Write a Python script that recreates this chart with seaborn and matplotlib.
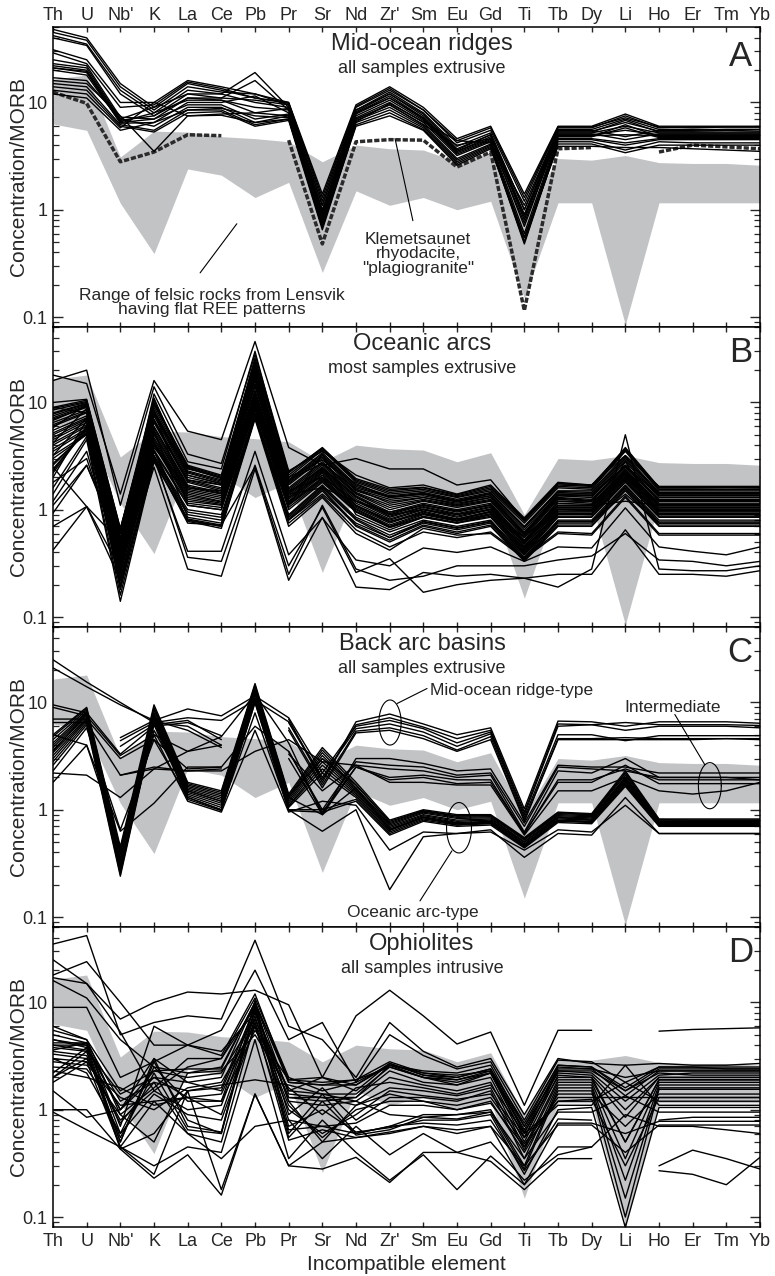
import numpy as np
import pandas as pd
import matplotlib
matplotlib.use("Agg")
import matplotlib.pyplot as plt
from matplotlib.ticker import LogLocator, FuncFormatter, NullFormatter
import seaborn as sns

sns.set_style("ticks")
plt.rcParams["font.family"] = ["Liberation Sans", "DejaVu Sans"]

nan = np.nan

ELEMENTS = ["Th", "U", "Nb'", "K", "La", "Ce", "Pb", "Pr", "Sr", "Nd", "Zr'",
            "Sm", "Eu", "Gd", "Ti", "Tb", "Dy", "Li", "Ho", "Er", "Tm", "Yb"]

# Lensvik felsic rocks with flat REE patterns (range envelope)
felsic_low = [6.3, 5.5, 1.15, 0.39, 2.4, 2.1, 1.3, 1.8, 0.26, 1.5, 1.1,
              1.3, 1.0, 1.2, 0.15, 1.16, 1.16, 0.085, 1.16, 1.16, 1.16, 1.16]
felsic_high = [16.5, 18.0, 3.1, 5.4, 5.3, 4.8, 4.6, 4.3, 2.8, 4.0, 3.7,
               3.6, 2.8, 3.4, 0.9, 3.0, 2.9, 3.2, 2.75, 2.7, 2.7, 2.6]

# Klemetsaunet rhyodacite ("plagiogranite")
klemetsaunet = [12.5, 9.8, 2.8, 3.45, 5.0, 4.9, nan, 4.45, 0.48, 4.3, 4.5,
                4.45, 2.5, 3.45, 0.115, 3.7, 3.8, nan, 3.45, 4.0, 3.85, 3.7]

# A: mid-ocean ridges
ridge_samples = [
    [48, 40, 15, 9, 15, 13, 11, 10, 1.2, 9, 13, 8.5, 4.2, 5.5, 1.2, 5.8, 5.8, 7.5, 5.8, 5.9, 5.9, 5.9],
    [45, 38, 14, 8.5, 14, 12.5, 12, 9.5, 1.1, 8.5, 12.5, 8, 3.9, 5.2, 1.0, 5.6, 5.6, 7.0, 5.6, 5.6, 5.6, 5.6],
    [42, 35, 13, 8, 13, 12, 19, 9, 1.0, 8.2, 12, 7.5, 3.6, 5.0, 0.9, 5.4, 5.4, 6.5, 5.4, 5.4, 5.5, 5.4],
    [40, 34, 12, 7.5, 12, 11, 16, 8.5, 0.95, 8, 11.5, 7.2, 3.5, 4.8, 0.8, 5.2, 5.2, 6.0, 5.2, 5.2, 5.2, 5.2],
    [31, 25, 10, 10, 16, 14, 12, 10, 1.4, 9.5, 14, 9, 4.6, 6, 1.4, 6.0, 6.0, 7.8, 6.0, 6.0, 6.0, 6.0],
    [29, 23, 9, 9.5, 15.5, 13.5, 11, 9.8, 1.3, 9.2, 13.5, 8.5, 4.4, 5.8, 1.3, 5.9, 5.9, 7.2, 5.9, 5.8, 5.9, 5.9],
    [25, 22, 7.3, 7, 11, 11, 10.5, 9.5, 0.9, 8, 11, 7, 3.4, 4.5, 0.7, 5.0, 5.0, 5.5, 5.0, 5.0, 5.0, 5.0],
    [23, 21, 7, 9, 12, 12, 10, 9, 1.1, 8.5, 12, 7.8, 3.7, 5.0, 1.0, 5.3, 5.3, 6.8, 5.3, 5.3, 5.3, 5.3],
    [22, 20, 6.8, 7.5, 11, 10.5, 9, 8.5, 0.85, 7.5, 10.5, 6.8, 3.3, 4.4, 0.75, 4.9, 4.9, 5.0, 4.9, 4.9, 4.9, 4.9],
    [21, 19.5, 6.6, 8, 10.5, 10.5, 8, 8.8, 0.95, 7.8, 11, 7.2, 3.5, 4.6, 0.85, 5.1, 5.1, 4.5, 5.1, 5.1, 5.1, 5.1],
    [21, 19, 6.4, 6.5, 10, 10, 11.5, 8, 0.8, 7.2, 10, 6.5, 3.2, 4.3, 0.6, 4.8, 4.8, 6.2, 4.8, 4.8, 4.8, 4.8],
    [20, 18, 6.5, 7, 9.5, 9.5, 7, 7.8, 0.75, 7, 9.5, 6.2, 3.0, 4.1, 0.55, 4.6, 4.6, 4.2, 4.6, 4.6, 4.6, 4.6],
    [17, 16, 7, 6, 9, 9, 6.5, 7.5, 0.7, 6.8, 9, 6, 2.9, 4.0, 0.5, 4.5, 4.5, 4.0, 4.5, 4.5, 4.5, 4.5],
    [15, 14, 6.2, 5.5, 8.5, 8.5, 6.2, 7, 0.68, 6.5, 8.5, 5.8, 2.8, 3.9, 0.48, 4.3, 4.3, 3.6, 4.3, 4.2, 4.2, 4.2],
    [14, 13, 6, 5.3, 8, 8.2, 6, 6.8, 0.65, 6.2, 8, 5.6, 2.7, 3.8, 0.5, 4.1, 4.1, 3.4, 4.0, 4.0, 4.0, 4.0],
    [13, 12, 5.8, 10, 7.5, 7.6, 6.5, 7, 0.7, 6, 7.5, 5.5, 2.6, 3.7, 0.55, 3.9, 3.9, 3.8, 3.8, 3.7, 3.6, 3.5],
    [16, 15, 7.5, 3.5, 7.5, 7.8, 8, 7.5, 0.9, 7, 9.5, 6.2, 4.0, 4.6, 0.9, 4.8, 4.8, 5.8, 4.7, 4.7, 4.7, 4.7],
    [12, 11, 5.5, 6.5, 8.5, 8.8, 7.5, 7.2, 0.8, 6.6, 9.8, 6.6, 4.4, 4.2, 1.1, 5.5, 5.5, 4.8, 5.5, 5.5, 5.6, 5.6],
]

# B: oceanic arcs
arc_samples = [
    [18, 15, 1.4, 16, 5.4, 4.5, 37, 3.8, 2.6, 3.0, 2.4, 2.4, 1.7, 1.9, 0.8, 1.75, 1.7, 3.2, 1.65, 1.65, 1.65, 1.65],
    [16, 20, 1.1, 14, 3.3, 2.7, 28, 2.3, 3.5, 2.1, 1.6, 1.7, 1.4, 1.7, 0.84, 1.8, 1.7, 3.6, 1.6, 1.6, 1.6, 1.6],
    [9, 10.5, 0.67, 9.7, 2.6, 2.1, 25, 2.2, 3.8, 1.9, 1.5, 1.6, 1.35, 1.6, 0.8, 1.7, 1.65, 3.8, 1.6, 1.6, 1.62, 1.6],
    [8.5, 10, 0.6, 9, 2.4, 2.0, 22, 2.0, 3.6, 1.8, 1.4, 1.5, 1.3, 1.5, 0.75, 1.6, 1.55, 3.5, 1.5, 1.5, 1.5, 1.5],
    [8, 9.8, 0.55, 8.5, 2.3, 1.9, 20, 1.9, 3.4, 1.7, 1.35, 1.45, 1.25, 1.45, 0.7, 1.5, 1.5, 3.2, 1.45, 1.45, 1.45, 1.45],
    [7.5, 9.5, 0.5, 8, 2.2, 1.8, 18, 1.8, 3.2, 1.6, 1.3, 1.4, 1.2, 1.4, 0.68, 1.45, 1.4, 3.0, 1.4, 1.4, 1.4, 1.4],
    [7, 9, 0.45, 7.5, 2.0, 1.7, 16, 1.7, 3.0, 1.5, 1.2, 1.3, 1.15, 1.3, 0.62, 1.35, 1.3, 2.8, 1.3, 1.3, 1.3, 1.3],
    [6.5, 8.5, 0.42, 7, 1.9, 1.6, 15, 1.6, 2.8, 1.45, 1.1, 1.25, 1.1, 1.25, 0.6, 1.3, 1.25, 2.6, 1.25, 1.25, 1.25, 1.25],
    [6, 8, 0.4, 6.5, 1.8, 1.5, 14, 1.5, 2.6, 1.4, 1.0, 1.2, 1.05, 1.2, 0.55, 1.25, 1.2, 2.5, 1.2, 1.2, 1.2, 1.2],
    [5.5, 7.5, 0.38, 6, 1.7, 1.45, 13, 1.45, 2.5, 1.35, 0.95, 1.15, 1.0, 1.15, 0.52, 1.2, 1.15, 2.4, 1.15, 1.15, 1.15, 1.15],
    [5, 7, 0.35, 5.5, 1.6, 1.4, 12, 1.4, 2.4, 1.3, 0.9, 1.1, 0.95, 1.1, 0.5, 1.1, 1.1, 2.3, 1.1, 1.1, 1.1, 1.1],
    [4.5, 6.5, 0.33, 5, 1.5, 1.3, 11, 1.3, 2.3, 1.2, 0.85, 1.05, 0.9, 1.05, 0.48, 1.05, 1.05, 2.2, 1.05, 1.05, 1.05, 1.05],
    [4, 6, 0.3, 4.5, 1.4, 1.2, 10, 1.2, 2.2, 1.1, 0.8, 1.0, 0.85, 1.0, 0.45, 1.0, 1.0, 2.1, 1.0, 1.0, 1.0, 1.0],
    [3.5, 5.5, 0.28, 4.2, 1.3, 1.15, 9.5, 1.15, 2.0, 1.05, 0.75, 0.95, 0.8, 0.95, 0.42, 0.95, 0.95, 2.0, 0.95, 0.95, 0.95, 0.95],
    [3, 5, 0.25, 4, 1.2, 1.1, 9, 1.1, 1.9, 1.0, 0.7, 0.9, 0.78, 0.9, 0.4, 0.9, 0.9, 1.9, 0.9, 0.9, 0.9, 0.9],
    [2.7, 5.2, 0.22, 3.5, 1.1, 1.0, 8.5, 1.0, 1.8, 0.95, 0.68, 0.85, 0.75, 0.85, 0.38, 0.85, 0.85, 1.8, 0.85, 0.85, 0.85, 0.85],
    [2.4, 5.5, 0.2, 3.2, 1.0, 0.9, 8, 0.9, 1.7, 0.85, 0.62, 0.8, 0.7, 0.8, 0.36, 0.8, 0.8, 1.7, 0.8, 0.8, 0.8, 0.8],
    [2.3, 6, 0.18, 3, 0.9, 0.8, 7.5, 0.85, 1.6, 0.8, 0.55, 0.75, 0.65, 0.75, 0.34, 0.75, 0.75, 1.6, 0.75, 0.75, 0.75, 0.75],
    [1.4, 4.5, 0.14, 2.8, 0.8, 0.7, 7.2, 0.8, 1.5, 0.7, 0.5, 0.7, 0.6, 0.7, 0.33, 0.7, 0.7, 1.5, 0.7, 0.7, 0.7, 0.7],
    [1.2, 3.5, 0.3, 3.5, 0.78, 0.67, 7.0, 0.7, 1.3, 0.6, 0.42, 0.67, 0.58, 0.6, 0.35, 0.6, 0.58, 1.3, 0.58, 0.58, 0.58, 0.58],
    [0.93, 2.6, 0.5, 3.8, 1.6, 1.5, 12, 1.5, 2.0, 1.2, 0.9, 1.0, 0.9, 1.0, 0.55, 1.1, 1.1, 1.2, 1.1, 1.1, 1.1, 1.1],
    [0.7, 1.07, 0.28, 3.0, 0.41, 0.41, 3.5, 0.38, 0.84, 0.34, 0.3, 0.44, 0.4, 0.45, 0.33, 0.45, 0.44, 1.04, 0.45, 0.41, 0.38, 0.45],
    [0.42, 1.07, 0.22, 2.5, 0.28, 0.24, 2.4, 0.22, 0.85, 0.19, 0.18, 0.26, 0.24, 0.25, 0.23, 0.25, 0.25, 0.65, 0.25, 0.25, 0.24, 0.27],
    [1.1, 2.6, 0.45, 3.2, 0.36, 0.33, 2.6, 0.3, 1.05, 0.26, 0.35, 0.17, 0.2, 0.22, 0.23, 0.19, 0.28, 5.0, 0.28, 0.27, 0.27, 0.3],
    [9, 8, 0.5, 12, 2.8, 2.4, 30, 2.0, 2.9, 1.75, 1.3, 1.4, 1.2, 1.35, 0.6, 1.4, 1.4, 2.5, 1.4, 1.4, 1.4, 1.4],
    [6.8, 9.2, 0.6, 10, 2.5, 2.0, 24, 1.4, 1.6, 1.2, 0.95, 1.1, 0.98, 1.1, 0.48, 1.2, 1.2, 1.9, 1.2, 1.2, 1.2, 1.2],
    [4.2, 8.8, 0.32, 8.5, 1.1, 1.0, 19, 1.1, 3.3, 0.9, 0.65, 0.85, 0.75, 0.9, 0.44, 0.92, 0.9, 2.8, 0.9, 0.9, 0.9, 0.9],
    [2.0, 6.8, 0.25, 5.5, 0.85, 0.75, 11, 0.8, 1.4, 0.75, 0.55, 0.78, 0.68, 0.78, 0.38, 0.78, 0.78, 1.4, 0.75, 0.75, 0.75, 0.75],
    [3.2, 7.2, 0.45, 6.8, 1.9, 1.7, 17, 1.3, 2.1, 1.1, 0.78, 0.92, 0.82, 0.95, 0.5, 1.0, 0.98, 2.2, 0.98, 0.98, 0.98, 0.98],
    [5.8, 9.6, 0.65, 11, 2.1, 1.75, 21, 1.9, 2.7, 1.55, 1.15, 1.3, 1.12, 1.3, 0.58, 1.35, 1.35, 2.6, 1.35, 1.35, 1.35, 1.35],
    [2.5, 1.07, 0.5, 3.0, 0.75, 0.72, 2.5, 0.25, 1.1, 0.28, 0.22, 0.24, 0.3, 0.3, 0.3, 0.34, 0.37, 0.6, 0.34, 0.33, 0.3, 0.33],
    [8.8, 10.2, 0.62, 10.5, 2.45, 1.95, 26, 2.1, 3.7, 1.85, 1.45, 1.55, 1.32, 1.55, 0.78, 1.65, 1.6, 3.6, 1.55, 1.55, 1.55, 1.55],
    [7.2, 9.3, 0.48, 7.8, 2.1, 1.75, 17, 1.75, 3.1, 1.55, 1.25, 1.35, 1.18, 1.35, 0.65, 1.4, 1.35, 2.9, 1.35, 1.35, 1.35, 1.35],
    [6.2, 8.2, 0.41, 6.8, 1.85, 1.55, 14.5, 1.55, 2.7, 1.42, 1.05, 1.22, 1.08, 1.22, 0.57, 1.28, 1.22, 2.55, 1.22, 1.22, 1.22, 1.22],
    [5.2, 7.2, 0.36, 5.8, 1.65, 1.42, 12.5, 1.42, 2.45, 1.32, 0.92, 1.12, 0.97, 1.12, 0.51, 1.15, 1.12, 2.35, 1.12, 1.12, 1.12, 1.12],
    [4.7, 6.8, 0.34, 5.2, 1.55, 1.35, 11.5, 1.35, 2.35, 1.25, 0.87, 1.07, 0.92, 1.07, 0.49, 1.08, 1.08, 2.25, 1.08, 1.08, 1.08, 1.08],
    [4.2, 6.2, 0.31, 4.7, 1.45, 1.25, 10.5, 1.25, 2.25, 1.15, 0.82, 1.02, 0.87, 1.02, 0.46, 1.02, 1.02, 2.15, 1.02, 1.02, 1.02, 1.02],
    [3.7, 5.7, 0.29, 4.3, 1.35, 1.18, 9.8, 1.18, 2.1, 1.08, 0.77, 0.97, 0.82, 0.97, 0.43, 0.97, 0.97, 2.05, 0.97, 0.97, 0.97, 0.97],
    [3.2, 5.1, 0.26, 4.1, 1.25, 1.12, 9.2, 1.12, 1.95, 1.02, 0.72, 0.92, 0.79, 0.92, 0.41, 0.92, 0.92, 1.95, 0.92, 0.92, 0.92, 0.92],
    [2.6, 5.3, 0.23, 3.6, 1.15, 1.05, 8.7, 1.05, 1.85, 0.97, 0.69, 0.87, 0.76, 0.87, 0.39, 0.87, 0.87, 1.85, 0.87, 0.87, 0.87, 0.87],
    [2.2, 5.8, 0.19, 3.1, 0.95, 0.85, 7.8, 0.88, 1.65, 0.82, 0.58, 0.77, 0.67, 0.77, 0.35, 0.77, 0.77, 1.65, 0.77, 0.77, 0.77, 0.77],
    [1.6, 4.8, 0.16, 2.9, 0.82, 0.72, 7.3, 0.82, 1.55, 0.72, 0.52, 0.72, 0.62, 0.72, 0.34, 0.72, 0.72, 1.55, 0.72, 0.72, 0.72, 0.72],
    [1.8, 3.0, 0.35, 3.6, 0.8, 0.7, 7.5, 0.75, 1.35, 0.65, 0.45, 0.62, 0.55, 0.62, 0.36, 0.62, 0.6, 1.35, 0.6, 0.6, 0.6, 0.6],
    [10, 10.7, 0.66, 9.5, 2.55, 2.05, 23, 2.25, 3.75, 1.95, 1.55, 1.62, 1.38, 1.65, 0.82, 1.75, 1.68, 3.7, 1.62, 1.62, 1.62, 1.62],
    [7.8, 9.7, 0.52, 8.2, 2.25, 1.85, 19, 1.85, 3.3, 1.65, 1.32, 1.42, 1.22, 1.42, 0.69, 1.48, 1.45, 3.1, 1.42, 1.42, 1.42, 1.42],
]

# C: back arc basins
backarc_samples = [
    [25, 15.5, 10, 6.5, 6.0, 4.0, nan, 7.0, 1.8, 6.6, 7.8, 6.3, 5.0, 5.8, 1.02, 6.7, 6.6, 6.0, 6.6, 6.6, 6.6, 6.4],
    [21, 14, 9.5, 6.8, 5.5, 3.8, nan, 6.5, 1.9, 6.2, 7.2, 5.9, 4.6, 5.5, 0.95, 6.3, 6.2, 6.5, 6.2, 6.2, 6.2, 6.1],
    [nan, nan, 4.7, 6.8, 8.7, 7.5, 11.5, 7.2, 2.2, 6.0, 6.8, 5.7, 4.2, 5.3, 0.9, 6.0, 6.2, 5.5, 6.0, 6.0, 6.0, 5.8],
    [nan, nan, 4.4, 6.5, 7.2, 6.8, 10.5, 6.6, 2.0, 5.7, 6.3, 5.3, 3.9, 5.1, 0.85, 5.0, 5.0, 4.4, 4.9, 4.9, 4.9, 4.9],
    [nan, nan, 3.9, 6.2, 6.8, 4.5, nan, 5.8, 1.7, 5.4, 5.8, 4.9, 3.6, 4.8, 0.8, 4.6, 4.6, 4.7, 4.6, 4.6, 4.6, 4.6],
    [9.5, 8, 3.3, 6.0, 6.5, 4.9, nan, 5.5, 1.6, 5.2, 5.5, 4.6, 3.5, 4.5, 0.78, 4.5, 4.5, 4.5, 4.5, 4.5, 4.6, 4.5],
    [9, 7.5, 3.2, 5.0, 3.5, 4.8, 12, 4.2, 0.9, 3.0, 3.0, 2.7, 2.3, 2.4, 0.75, 2.6, 2.5, 2.5, 2.2, 2.2, 2.2, 2.2],
    [7, 7.0, 3.0, 4.5, 2.4, 2.5, 6, 3.5, 1.0, 2.8, 2.6, 2.5, 2.1, 2.2, 0.7, 2.5, 2.4, 2.3, 2.0, 2.0, 2.0, 2.0],
    [6.5, 6.5, 2.1, 2.5, 2.3, 2.3, 3.5, 4.5, 2.8, 2.6, 2.4, 2.3, 2.0, 2.1, 0.62, 2.3, 2.2, 3.0, 2.0, 2.0, 2.0, 1.9],
    [2.2, 2.1, 1.3, 2.4, 3.5, 4.0, nan, 3.5, 0.95, 2.5, 2.0, 2.1, 1.9, 1.9, 0.6, 1.8, 1.8, 2.6, 1.75, 1.75, 1.75, 1.75],
    [5.0, 4.0, 0.63, 1.15, 2.5, 2.5, nan, 3.3, 1.5, 2.6, 1.8, 1.8, 1.7, 1.7, 0.58, 1.5, 1.5, 2.0, 1.5, 1.4, 1.5, 1.8],
    [nan, nan, 2.1, 2.4, 2.3, 2.4, nan, 3.0, 0.9, 2.5, 1.9, 2.0, 1.75, 1.8, 0.6, 1.9, 1.9, 2.4, 1.9, 1.9, 1.9, 1.9],
    [5.0, 9.0, 0.45, 9.5, 1.8, 1.5, 15, 1.4, 3.8, 1.8, 0.8, 1.0, 0.9, 0.9, 0.55, 0.95, 0.92, 2.3, 0.82, 0.82, 0.82, 0.82],
    [4.5, 8.5, 0.4, 9.0, 1.7, 1.4, 14, 1.35, 3.6, 1.7, 0.76, 0.97, 0.87, 0.88, 0.53, 0.92, 0.9, 2.2, 0.8, 0.8, 0.8, 0.8],
    [4.2, 8.2, 0.38, 8.5, 1.65, 1.35, 13, 1.3, 3.4, 1.6, 0.74, 0.95, 0.85, 0.86, 0.52, 0.9, 0.88, 2.1, 0.78, 0.78, 0.78, 0.78],
    [4.0, 8.0, 0.35, 8.0, 1.6, 1.3, 13, 1.25, 3.2, 1.55, 0.72, 0.93, 0.83, 0.84, 0.5, 0.88, 0.86, 2.0, 0.77, 0.77, 0.77, 0.77],
    [3.8, 7.8, 0.33, 7.8, 1.55, 1.25, 12, 1.2, 3.0, 1.5, 0.7, 0.9, 0.8, 0.82, 0.5, 0.86, 0.84, 1.95, 0.76, 0.76, 0.76, 0.76],
    [3.6, 7.5, 0.3, 7.5, 1.5, 1.2, 12, 1.15, 2.8, 1.45, 0.68, 0.88, 0.78, 0.8, 0.48, 0.84, 0.82, 1.9, 0.75, 0.75, 0.75, 0.75],
    [3.4, 7.2, 0.28, 7.2, 1.45, 1.15, 11, 1.1, 2.6, 1.4, 0.66, 0.86, 0.76, 0.78, 0.47, 0.82, 0.8, 1.85, 0.74, 0.74, 0.74, 0.74],
    [3.2, 7.0, 0.27, 7.0, 1.4, 1.1, 11, 1.08, 2.4, 1.35, 0.64, 0.84, 0.75, 0.76, 0.46, 0.8, 0.78, 1.8, 0.73, 0.73, 0.73, 0.73],
    [3.0, 6.8, 0.26, 6.8, 1.35, 1.05, 10.5, 1.05, 2.2, 1.3, 0.62, 0.82, 0.74, 0.75, 0.45, 0.79, 0.77, 1.75, 0.72, 0.72, 0.72, 0.72],
    [2.8, 6.5, 0.25, 6.5, 1.3, 1.0, 10, 1.0, 1.0, 1.25, 0.6, 0.8, 0.72, 0.74, 0.45, 0.78, 0.76, 1.7, 0.71, 0.71, 0.71, 0.71],
    [2.6, 6.2, 0.24, 6.2, 1.25, 0.98, 10, 0.98, 0.95, 1.2, 0.58, 0.78, 0.7, 0.72, 0.44, 0.76, 0.74, 1.65, 0.7, 0.7, 0.7, 0.7],
    [1.8, 4.0, 0.45, 5.0, 1.2, 0.95, 5.5, 0.95, 1.2, 1.1, 0.42, 0.62, 0.6, 0.62, 0.42, 0.65, 0.62, 1.1, 0.6, 0.6, 0.6, 0.6],
    [2.3, 5.8, 0.65, 4.5, 1.3, 1.0, 8, 1.0, 0.63, 1.0, 0.18, 0.56, 0.6, 0.65, 0.36, 0.6, 0.58, 1.3, 0.6, 0.6, 0.6, 0.6],
    [3.5, 7.8, 0.3, 5.5, 1.5, 1.2, 13, 1.3, 0.9, 1.6, 0.65, 0.85, 0.72, 0.78, 0.5, 0.85, 0.8, 2.0, 0.78, 0.78, 0.78, 0.78],
    [4.8, 8.8, 0.42, 8.8, 1.75, 1.45, 14.5, 1.35, 3.0, 1.7, 0.78, 0.98, 0.88, 0.88, 0.54, 0.94, 0.9, 2.2, 0.81, 0.8, 0.8, 0.8],
]

# D: ophiolites
ophiolite_samples = [
    [25, 15, 7, 10, 12.5, 12, 13, 9.5, 2.0, 7.5, 13, 7.5, 4.1, 5.3, 1.1, 5.5, 5.5, nan, 5.4, 5.6, 5.7, 5.8],
    [35, 42, 5, 6.5, 7.5, 7, 38, 6, 4.5, 2.0, 6.5, 3.5, 2.5, 3.0, 0.9, 3.0, 2.7, 2.6, 2.7, 2.6, 2.6, 2.7],
    [18, 24, 10, 4, 4, 5.5, 20, 4.5, 6.5, 1.8, 5.0, 3.2, 2.4, 2.8, 0.8, 2.9, 2.8, 1.8, 2.5, 2.5, 2.5, 2.5],
    [17, 15, 5.3, 1.5, 2.5, 3, 11, 2.0, 1.5, 1.8, 2.6, 2.3, 2.2, 2.6, 0.7, 2.6, 2.5, 1.5, 2.4, 2.4, 2.4, 2.4],
    [16, 11, 4.5, 2.5, 2.2, 2.5, 10, 1.8, 1.7, 1.7, 2.7, 2.1, 2.0, 2.4, 0.6, 2.5, 2.4, 1.35, 2.3, 2.3, 2.3, 2.3],
    [9, 9, 2, 2.8, 4, 3.5, 8, 1.5, 1.4, 1.4, 2.5, 2.0, 1.9, 2.2, 0.55, 2.3, 2.2, 1.2, 2.1, 2.2, 2.2, 2.2],
    [6, 4.5, 1.5, 2.3, 2.0, 2.2, 7, 1.3, 1.2, 1.3, 2.3, 1.8, 1.7, 2.0, 0.5, 2.1, 2.0, 0.85, 2.0, 2.0, 2.0, 2.0],
    [5, 4.2, 1.2, 1.8, 1.5, 1.6, 9, 1.2, 1.1, 1.2, 2.0, 1.7, 1.5, 1.8, 0.45, 1.9, 1.9, 0.5, 1.9, 1.9, 1.9, 1.9],
    [4.5, 4, 1.0, 3, 1.8, 2.0, 10, 1.4, 1.3, 1.1, 1.6, 1.5, 1.35, 1.6, 0.42, 1.8, 1.8, 0.35, 1.8, 1.8, 1.8, 1.8],
    [4.2, 4.2, 0.6, 2.5, 1.2, 1.2, 9.5, 0.9, 1.6, 0.8, 1.3, 1.3, 1.2, 1.5, 0.35, 1.7, 1.7, 0.22, 1.7, 1.7, 1.7, 1.7],
    [4.0, 4.0, 0.5, 2.8, 0.8, 0.6, 10.5, 0.6, 1.4, 0.6, 0.7, 0.9, 0.9, 1.0, 0.3, 1.6, 1.6, 0.15, 1.6, 1.6, 1.6, 1.6],
    [3.8, 3.5, 0.5, 3.0, 0.7, 0.62, 9, 0.55, 1.2, 0.58, 0.65, 0.85, 0.82, 0.95, 0.28, 1.5, 1.5, 0.1, 1.55, 1.55, 1.55, 1.55],
    [3.5, 3.2, 0.55, 2.2, 0.65, 0.6, 8.5, 0.7, 1.0, 0.62, 0.68, 0.8, 0.8, 0.9, 0.25, 1.0, 1.05, 0.08, 1.05, 1.05, 1.05, 1.05],
    [3.3, 3.0, 0.8, 1.5, 1.0, 1.1, 7.5, 0.8, 0.7, 0.75, 1.1, 1.1, 1.0, 1.2, 0.4, 1.4, 1.4, 0.7, 1.4, 1.4, 1.4, 1.4],
    [3.0, 2.8, 1.1, 1.2, 1.3, 1.4, 6.5, 1.1, 0.55, 1.0, 1.2, 1.2, 1.1, 1.3, 0.48, 1.3, 1.3, 1.3, 1.3, 1.3, 1.3, 1.3],
    [2.8, 2.6, 1.3, 1.0, 1.6, 1.8, 6, 1.0, 0.6, 0.9, 1.5, 1.35, 1.25, 1.4, 0.55, 1.2, 1.2, 1.8, 1.2, 1.2, 1.2, 1.2],
    [2.5, 2.4, 0.9, 0.5, 2.2, 2.3, 5, 1.6, 0.9, 1.6, 1.8, 1.6, 1.4, 1.7, 0.6, 1.1, 1.1, 2.6, 1.1, 1.1, 1.1, 1.1],
    [2.2, 3.8, 0.45, 0.3, 0.45, 0.4, 4.5, 0.35, 0.8, 0.4, 0.22, 0.38, 0.18, 0.37, 0.2, 0.45, 0.45, nan, 0.3, 0.42, 0.35, 0.28],
    [2.0, 3.5, 0.43, 0.23, 0.38, 0.16, 1.4, 0.3, 0.28, 0.36, 0.21, 0.4, 0.4, 0.33, 0.18, 0.35, 0.35, nan, 0.27, 0.25, 0.2, 0.36],
    [1.8, 2.8, 0.45, 1.2, 0.6, 0.35, 0.7, 0.8, 0.35, 0.7, 0.38, 0.6, 0.4, 0.5, 0.22, 0.38, 0.45, 0.9, 0.7, 0.7, 0.65, 0.6],
    [1.0, 1.0, 0.43, 0.6, 1.5, 1.7, 1.9, 1.7, 1.4, 1.2, 0.9, 0.85, 0.9, 0.95, 0.35, 0.95, 0.95, 1.35, 0.95, 0.95, 0.95, 0.95],
    [0.95, 0.65, 0.45, 0.25, 1.5, 0.18, 1.4, 0.3, 0.5, 0.55, 0.6, 0.7, 0.65, 0.7, 0.2, 0.75, 0.75, 0.6, 0.78, 0.78, 0.78, 0.78],
    [1.5, 0.85, 1.0, 2.0, 1.3, 1.2, 5.5, 1.9, 1.8, 1.9, 2.8, 2.2, 2.1, 2.3, 0.65, 2.4, 2.4, 2.0, 2.3, 2.3, 2.3, 2.3],
    [2.3, 2.0, 1.6, 1.1, 1.3, 0.9, 7, 1.3, 1.3, 1.3, 2.6, 2.0, 1.8, 2.2, 0.55, 2.3, 2.3, 1.5, 2.2, 2.1, 2.1, 2.1],
    [4.0, 3.6, 1.4, 2.0, 1.8, 1.5, 8, 1.5, 2.0, 1.5, 2.7, 2.1, 1.9, 2.3, 0.7, 2.2, 2.1, 1.0, 2.0, 2.0, 2.0, 2.0],
    [3.6, 4.2, 0.7, 6.0, 4.0, 3.2, 12, 1.8, 1.7, 1.9, 2.5, 2.0, 1.7, 2.2, 0.62, 2.0, 2.0, 0.5, 1.9, 1.9, 1.9, 1.9],
    [5.5, 4.5, 0.9, 1.6, 3.0, 3.0, 9, 1.2, 0.5, 1.1, 1.4, 1.2, 1.0, 1.15, 0.45, 1.2, 1.25, 0.3, 1.3, 1.3, 1.3, 1.3],
    [3.0, 2.2, 0.6, 1.4, 0.9, 0.8, 6, 0.65, 0.7, 0.6, 0.7, 0.75, 0.72, 0.8, 0.27, 0.82, 0.8, nan, 0.8, 0.85, 0.85, 0.85],
    [2.0, 3.0, 0.75, 1.8, 0.6, 0.5, 6.5, 0.52, 0.65, 0.55, 0.62, 0.7, 0.6, 0.7, 0.3, 0.72, 0.72, 0.4, 0.72, 0.72, 0.72, 0.72],
    [4.5, 3.8, 1.0, 2.3, 2.4, 2.4, 10, 1.9, 2.0, 1.7, 2.6, 2.2, 2.0, 2.4, 0.75, 2.6, 2.5, 1.6, 2.5, 2.5, 2.4, 2.4],
]

PANELS = [
    ("Mid-ocean ridges", "all samples extrusive", "A", ridge_samples),
    ("Oceanic arcs", "most samples extrusive", "B", arc_samples),
    ("Back arc basins", "all samples extrusive", "C", backarc_samples),
    ("Ophiolites", "all samples intrusive", "D", ophiolite_samples),
]

for _, _, _, samples in PANELS:
    for s in samples:
        if len(s) != len(ELEMENTS):
            raise ValueError("sample length mismatch")


def to_long(samples):
    """Long table; each unbroken run of a pattern gets its own unit so gaps stay open."""
    rows = []
    for i, s in enumerate(samples):
        seg, open_run = 0, False
        for j, v in enumerate(s):
            if np.isnan(v):
                if open_run:
                    seg += 1
                open_run = False
                continue
            rows.append((f"{i}-{seg}", j, v))
            open_run = True
    return pd.DataFrame(rows, columns=["unit", "pos", "value"])


def ellipse(ax, xc, logc, a, b):
    t = np.linspace(0, 2 * np.pi, 120)
    ax.plot(xc + a * np.cos(t), 10 ** (logc + b * np.sin(t)), color="black", lw=0.8, zorder=5)


W, H = 775, 1276
fig = plt.figure(figsize=(W / 100, H / 100), dpi=100)
left, width = 53 / W, 707 / W
tops = [27, 327, 627, 927]
pos = np.arange(len(ELEMENTS))
GRAY = "#c2c3c5"

axes = []
for k, (title, sub, letter, samples) in enumerate(PANELS):
    ax = fig.add_axes([left, 1 - (tops[k] + 300) / H, width, 300 / H])
    axes.append(ax)
    ax.set_yscale("log")
    ax.fill_between(pos, felsic_low, felsic_high, color=GRAY, lw=0, zorder=1)

    if k == 0:
        kdf = to_long([klemetsaunet])
        sns.lineplot(data=kdf, x="pos", y="value", units="unit", estimator=None,
                     color="#2b2b2b", lw=2.5, linestyle=(0, (1.5, 0.55)),
                     sort=False, legend=False, ax=ax, zorder=2)

    df = to_long(samples)
    sns.lineplot(data=df, x="pos", y="value", units="unit", estimator=None,
                 color="black", lw=1.0, sort=False, legend=False, ax=ax, zorder=3)

    ax.set_xlim(0, len(ELEMENTS) - 1)
    ax.set_ylim(0.0807, 50.5)
    ax.set_xticks(pos)
    ax.set_xticklabels(ELEMENTS)
    ax.tick_params(axis="x", which="both", direction="in", top=True, bottom=True,
                   length=3.5, width=1.0, labelsize=13, pad=(2.0 if k == 0 else 4.5),
                   labeltop=(k == 0), labelbottom=(k == 3))
    ax.yaxis.set_major_locator(LogLocator(base=10, numticks=10))
    ax.yaxis.set_minor_locator(LogLocator(base=10, subs=np.arange(2, 10), numticks=20))
    ax.yaxis.set_major_formatter(FuncFormatter(lambda v, p: f"{v:g}"))
    ax.yaxis.set_minor_formatter(NullFormatter())
    ax.tick_params(axis="y", which="major", direction="in", left=True, right=True,
                   length=7, width=1.0, labelsize=13, pad=4)
    ax.tick_params(axis="y", which="minor", direction="in", left=True, right=True,
                   length=4, width=0.9)
    for sp in ax.spines.values():
        sp.set_linewidth(1.1)
        sp.set_color("black")
    ax.set_xlabel("")
    ax.set_ylabel("Concentration/MORB", fontsize=15)
    ax.yaxis.set_label_coords(-0.036, 0.5)

    ax.text(0.522, 0.943, title, transform=ax.transAxes, ha="center", va="center", fontsize=17)
    ax.text(0.522, 0.863, sub, transform=ax.transAxes, ha="center", va="center", fontsize=13)
    ax.text(0.972, 0.90 if k == 0 else 0.915, letter, transform=ax.transAxes,
            ha="center", va="center", fontsize=25)

# Panel A annotations
axA = axes[0]
axA.text(4.72, 0.137, "Range of felsic rocks from Lensvik\nhaving flat REE patterns",
         ha="center", va="center", fontsize=12.5, linespacing=0.95)
axA.plot([4.37, 5.46], [0.258, 0.74], color="black", lw=0.8, zorder=5)
axA.text(10.84, 0.388, "Klemetsaunet\nrhyodacite,\n\"plagiogranite\"",
         ha="center", va="center", fontsize=12.5, linespacing=0.95)
axA.plot([10.69, 10.16], [0.79, 4.6], color="black", lw=0.8, zorder=5)

# Panel C annotations
axC = axes[2]
ellipse(axC, 10.01, 0.813, 0.33, 0.21)
axC.text(11.2, 10 ** 1.112, "Mid-ocean ridge-type", ha="left", va="center", fontsize=12.5)
axC.plot([10.22, 11.11], [10 ** 0.99, 10 ** 1.13], color="black", lw=0.8, zorder=5)
ellipse(axC, 12.06, -0.168, 0.37, 0.235)
axC.text(10.69, 0.109, "Oceanic arc-type", ha="center", va="center", fontsize=12.5)
axC.plot([10.9, 11.85], [10 ** -0.85, 10 ** -0.383], color="black", lw=0.8, zorder=5)
ellipse(axC, 19.51, 0.224, 0.34, 0.215)
axC.text(18.41, 10 ** 0.953, "Intermediate", ha="center", va="center", fontsize=12.5)
axC.plot([18.47, 19.36], [10 ** 0.888, 10 ** 0.42], color="black", lw=0.8, zorder=5)

fig.text((53 + 760) / 2 / W, 1 - 1265 / H, "Incompatible element",
         ha="center", va="center", fontsize=15)

fig.savefig("out.png", dpi=100)
